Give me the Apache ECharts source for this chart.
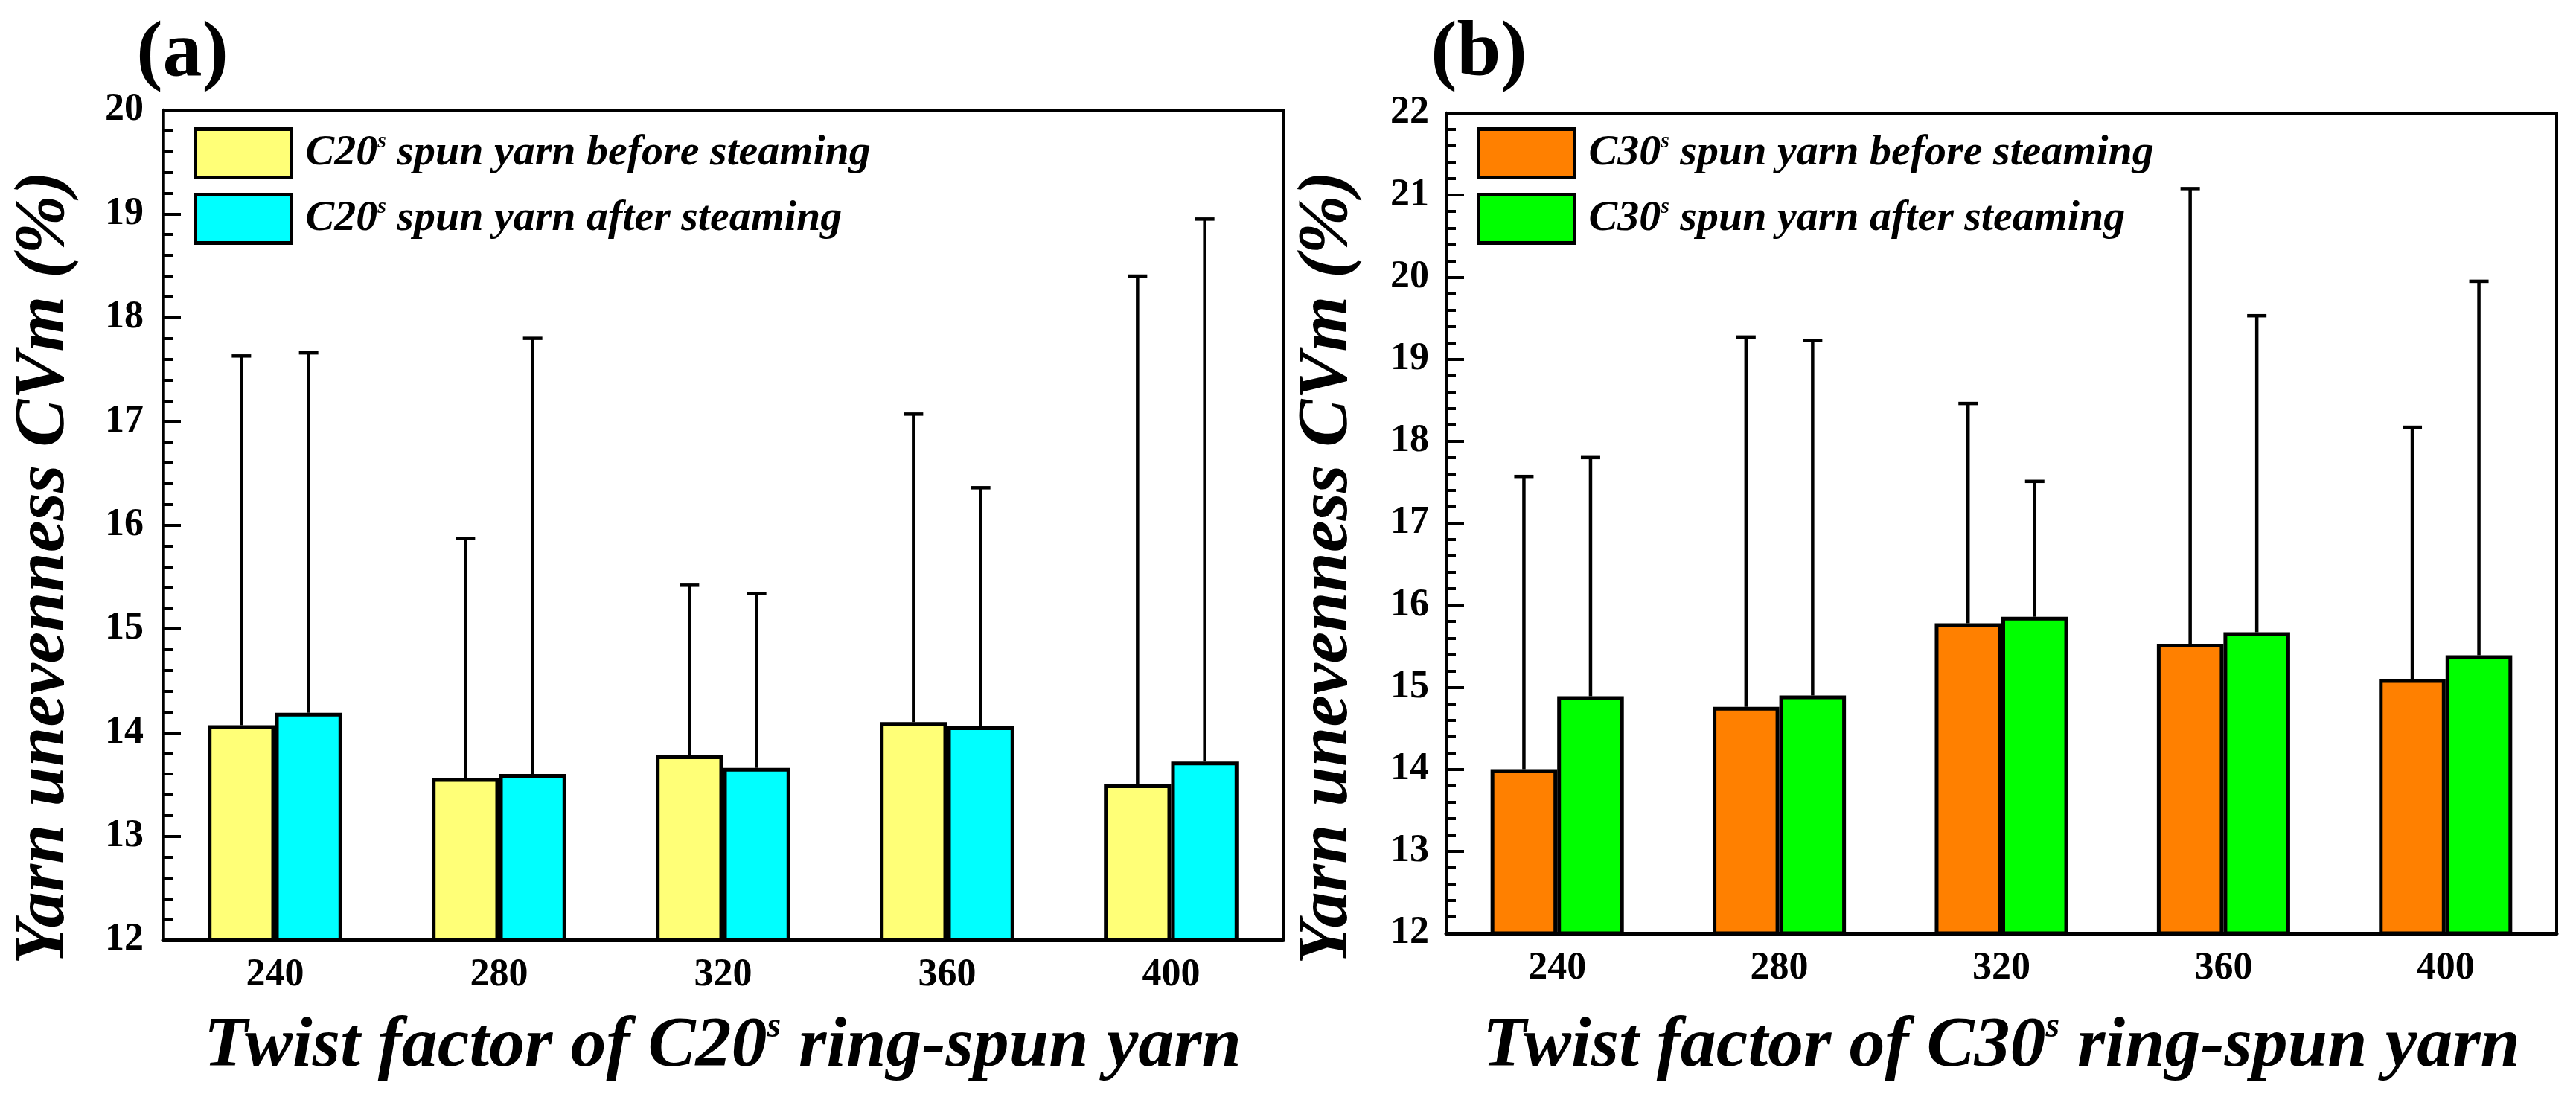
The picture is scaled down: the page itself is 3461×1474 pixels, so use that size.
<!DOCTYPE html>
<html><head><meta charset="utf-8">
<script src="https://cdn.jsdelivr.net/npm/echarts@6/dist/echarts.min.js"></script>
<style>html,body{margin:0;padding:0;background:#fff}#c{width:3461px;height:1474px}</style>
</head><body><div id="c"></div>
<script>
// ---- data ----
const twistFactors = ['240', '280', '320', '360', '400'];
const yTicksA = [12, 13, 14, 15, 16, 17, 18, 19, 20];
const yTicksB = [12, 13, 14, 15, 16, 17, 18, 19, 20, 21, 22];

const c20BeforeName = 'C20s spun yarn before steaming';
const c20AfterName = 'C20s spun yarn after steaming';
const c30BeforeName = 'C30s spun yarn before steaming';
const c30AfterName = 'C30s spun yarn after steaming';

const c20Before = [14.07, 13.56, 13.78, 14.10, 13.50];
const c20BeforeSD = [3.56, 2.31, 1.64, 2.97, 4.90];
const c20After = [14.19, 13.60, 13.66, 14.06, 13.72];
const c20AfterSD = [3.47, 4.20, 1.68, 2.30, 5.23];

const c30Before = [14.00, 14.76, 15.78, 15.53, 15.10];
const c30BeforeSD = [3.57, 4.51, 2.68, 5.55, 3.07];
const c30After = [14.89, 14.90, 15.86, 15.67, 15.39];
const c30AfterSD = [2.91, 4.33, 1.65, 3.86, 4.56];

// ---- styling ----
const FONT = "'Liberation Serif','Times New Roman',serif";
const chart = echarts.init(document.getElementById('c'), null, {renderer: 'canvas'});

function richName(name) {
  const m = name.match(/^(.*C\d+)s(.*)$/);
  if (!m) return '{n|' + name + '}';
  return '{n|' + m[1] + '}{s|s}{n|' + m[2] + '}';
}

function errSeries(name, xIdx, means, sds, side) {
  return {
    type: 'custom', name: name + ' err', xAxisIndex: xIdx, yAxisIndex: xIdx, z: 5,
    silent: true,
    data: means.map((m, i) => [i, m, sds[i]]),
    encode: {x: 0, y: 1},
    renderItem: function (params, api) {
      const i = api.value(0), m = api.value(1), sd = api.value(2);
      const bw = api.size([1, 0])[0];
      const p0 = api.coord([i, m]);
      const p1 = api.coord([i, m + sd]);
      const x = p0[0] + side * bw * 0.15;
      const cap = 13;
      const st = {stroke: '#000', lineWidth: 4.5};
      return {
        type: 'group',
        children: [
          {type: 'line', shape: {x1: x, y1: p0[1], x2: x, y2: p1[1]}, style: st},
          {type: 'line', shape: {x1: x - cap, y1: p1[1], x2: x + cap, y2: p1[1]}, style: st}
        ]
      };
    }
  };
}

function barSeries(name, xIdx, values, color) {
  return {
    type: 'bar', name: name, xAxisIndex: xIdx, yAxisIndex: xIdx,
    data: values, barWidth: '30%', barGap: '0%',
    itemStyle: {color: color, borderColor: '#000', borderWidth: 5},
    z: 2
  };
}

const legendRich = {
  n: {fontFamily: FONT, fontSize: 58, fontStyle: 'italic', fontWeight: 'bold', color: '#000', lineHeight: 62},
  s: {fontFamily: FONT, fontSize: 30, fontStyle: 'italic', fontWeight: 'bold', color: '#000', verticalAlign: 'top', lineHeight: 62}
};

function legendFor(idx, names, left, top) {
  return {
    orient: 'vertical', left: left, top: top, itemWidth: 129, itemHeight: 65, itemGap: 18,
    icon: 'rect', data: names, selectedMode: false,
    itemStyle: {borderColor: '#000', borderWidth: 5},
    formatter: richName,
    textStyle: {padding: [0, 0, 0, 14], rich: legendRich}
  };
}

function yAxisFor(idx, ticks, margin) {
  return {
    type: 'value', gridIndex: idx, min: ticks[0], max: ticks[ticks.length - 1], interval: 1,
    axisLine: {show: true, lineStyle: {color: '#000', width: 4.5}},
    axisTick: {show: true, inside: true, length: 24, lineStyle: {color: '#000', width: 4}},
    minorTick: {show: true, splitNumber: 5, length: 13, lineStyle: {color: '#000', width: 4}},
    splitLine: {show: false},
    axisLabel: {margin: margin, fontFamily: FONT, fontWeight: 'bold', fontSize: 52, color: '#000'}
  };
}

function xAxisFor(idx) {
  return {
    type: 'category', gridIndex: idx, data: twistFactors,
    axisLine: {show: true, lineStyle: {color: '#000', width: 5}},
    axisTick: {show: false},
    splitLine: {show: false},
    axisLabel: {margin: 22, fontFamily: FONT, fontWeight: 'bold', fontSize: 52, color: '#000'}
  };
}

const titleRich = {
  n: {fontFamily: FONT, fontSize: 96, fontStyle: 'italic', fontWeight: 'bold', fill: '#000', lineHeight: 100},
  s: {fontFamily: FONT, fontSize: 48, fontStyle: 'italic', fontWeight: 'bold', fill: '#000', verticalAlign: 'top', lineHeight: 100}
};

function xTitle(cx, cy, text) {
  return {
    type: 'text', x: cx, y: cy, z: 10,
    style: {text: richName(text), rich: titleRich, align: 'center', verticalAlign: 'middle',
            textAlign: 'center', textVerticalAlign: 'middle'}
  };
}

function yTitle(cx, cy) {
  return {
    type: 'text', x: cx, y: cy, rotation: Math.PI / 2, z: 10,
    style: {text: 'Yarn unevenness CVm (%)', font: 'italic bold 96px ' + FONT, fill: '#000',
            textAlign: 'center', textVerticalAlign: 'middle', align: 'center', verticalAlign: 'middle'}
  };
}

function panelLabel(cx, cy, t) {
  return {
    type: 'text', x: cx, y: cy, z: 10,
    style: {text: t, font: 'bold 106px ' + FONT, fill: '#000',
            textAlign: 'center', textVerticalAlign: 'middle', align: 'center', verticalAlign: 'middle'}
  };
}

const option = {
  backgroundColor: '#fff',
  animation: false,
  grid: [
    {left: 219, top: 148, width: 1505, height: 1115, show: true, borderColor: '#000', borderWidth: 4, backgroundColor: 'transparent'},
    {left: 1943, top: 152, width: 1492, height: 1102, show: true, borderColor: '#000', borderWidth: 4, backgroundColor: 'transparent'}
  ],
  legend: [
    legendFor(0, [c20BeforeName, c20AfterName], 255, 166),
    legendFor(1, [c30BeforeName, c30AfterName], 1979, 166)
  ],
  xAxis: [xAxisFor(0), xAxisFor(1)],
  yAxis: [yAxisFor(0, yTicksA, 26), yAxisFor(1, yTicksB, 23)],
  series: [
    barSeries(c20BeforeName, 0, c20Before, '#FFFF77'),
    barSeries(c20AfterName, 0, c20After, '#00FFFF'),
    barSeries(c30BeforeName, 1, c30Before, '#FF8000'),
    barSeries(c30AfterName, 1, c30After, '#00FF00'),
    errSeries(c20BeforeName, 0, c20Before, c20BeforeSD, -1),
    errSeries(c20AfterName, 0, c20After, c20AfterSD, 1),
    errSeries(c30BeforeName, 1, c30Before, c30BeforeSD, -1),
    errSeries(c30AfterName, 1, c30After, c30AfterSD, 1)
  ],
  graphic: [
    panelLabel(245, 74, '(a)'),
    panelLabel(1987, 74, '(b)'),
    yTitle(60, 763),
    yTitle(1784, 763),
    xTitle(971, 1407, 'Twist factor of C20s ring-spun yarn'),
    xTitle(2689, 1407, 'Twist factor of C30s ring-spun yarn')
  ]
};
chart.setOption(option);
</script></body></html>
